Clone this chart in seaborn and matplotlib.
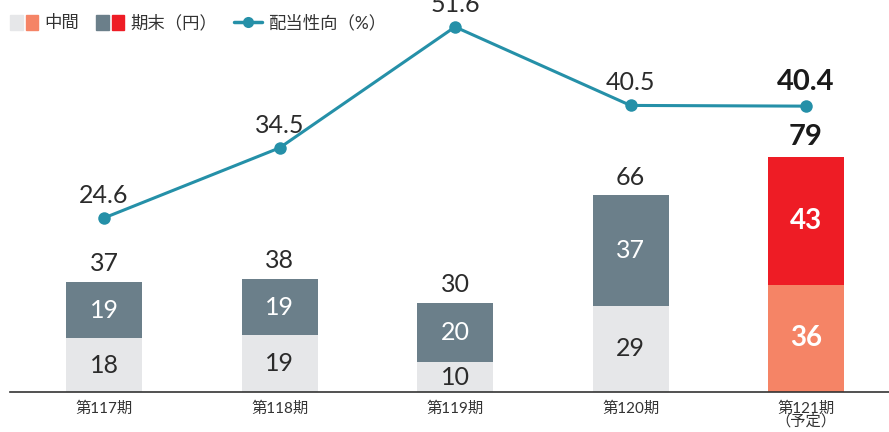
import matplotlib
matplotlib.use('Agg')
import matplotlib.pyplot as plt
from matplotlib.patches import Patch
from matplotlib.lines import Line2D
from matplotlib.legend_handler import HandlerTuple
import seaborn as sns
import pandas as pd

periods = ['第117期', '第118期', '第119期', '第120期', '第121期\n（予定）']
interim = [18, 19, 10, 29, 36]
year_end = [19, 19, 20, 37, 43]
payout = [24.6, 34.5, 51.6, 40.5, 40.4]

sns.set_style('white')
plt.rcParams['font.family'] = ['Lato', 'Noto Sans CJK JP', 'DejaVu Sans']

totals = [a + b for a, b in zip(interim, year_end)]
df = pd.DataFrame({'period': periods, 'interim': interim, 'total': totals, 'payout': payout})

c_int = ['#e6e7e9'] * 4 + ['#f58466']
c_end = ['#6b7f8a'] * 4 + ['#ee1c25']
teal = '#2590a8'
txt = '#2b2b2b'

fig = plt.figure(figsize=(8.89, 4.32), dpi=100)
ax = fig.add_axes([10 / 889, 40 / 432, 879 / 889, 392 / 432])

sns.barplot(data=df, x='period', y='total', hue='period', palette=c_end,
            legend=False, width=0.433, ax=ax, saturation=1, linewidth=0)
sns.barplot(data=df, x='period', y='interim', hue='period', palette=c_int,
            legend=False, width=0.433, ax=ax, saturation=1, linewidth=0)
ax.set_xlim(-0.536, 4.473)
ax.set_ylim(0, 131.5)
ax.set_xlabel('')
ax.set_ylabel('')
ax.set_yticks([])
for s in ['top', 'right', 'left']:
    ax.spines[s].set_visible(False)
ax.spines['bottom'].set_color('#333333')
ax.spines['bottom'].set_linewidth(1.2)
ax.tick_params(axis='x', length=0, labelsize=11, colors='#333333', pad=7)
for lab in ax.get_xticklabels():
    lab.set_linespacing(0.85)

for i in range(len(periods)):
    last = i == len(periods) - 1
    w = 'bold' if last else 'normal'
    fs = 20 if last else 18
    ax.text(i, interim[i] / 2, str(interim[i]), ha='center', va='center',
            fontsize=fs, color='white' if last else txt, fontweight=w)
    ax.text(i, interim[i] + year_end[i] / 2, str(year_end[i]), ha='center', va='center',
            fontsize=fs, color='white', fontweight=w)
    ax.text(i, totals[i] + 2.2, str(totals[i]), ha='center', va='bottom',
            fontsize=21 if last else 18, color='#1a1a1a' if last else txt, fontweight=w)

ax2 = ax.twinx()
sns.lineplot(x=list(range(len(periods))), y=payout, ax=ax2, color=teal, linewidth=2.2,
             marker='o', markersize=9, markeredgewidth=0)
ax2.set_ylim(0, 55.4)
ax2.set_yticks([])
for s in ['top', 'right', 'left', 'bottom']:
    ax2.spines[s].set_visible(False)
for i, v in enumerate(payout):
    last = i == len(payout) - 1
    ax2.text(i, v + 1.6, f'{v:.1f}', ha='center', va='bottom', fontsize=21 if last else 18,
             color='#1a1a1a' if last else txt, fontweight='bold' if last else 'normal')

handles = [
    (Patch(color=c_int[0]), Patch(color=c_int[-1])),
    (Patch(color=c_end[0]), Patch(color=c_end[-1])),
    Line2D([], [], color=teal, linewidth=2.5, marker='o', markersize=8, markeredgewidth=0),
]
fig.legend(handles, ['中間', '期末（円）', '配当性向（%）'],
           handler_map={tuple: HandlerTuple(ndivide=None, pad=0.2)},
           loc='upper left', bbox_to_anchor=(0.0, 0.99), ncol=3, frameon=False,
           fontsize=12.5, handlelength=1.6, handleheight=0.9, handletextpad=0.35,
           columnspacing=1.0, labelcolor='#333333', borderaxespad=0.2)

fig.savefig('out.png', dpi=100)
